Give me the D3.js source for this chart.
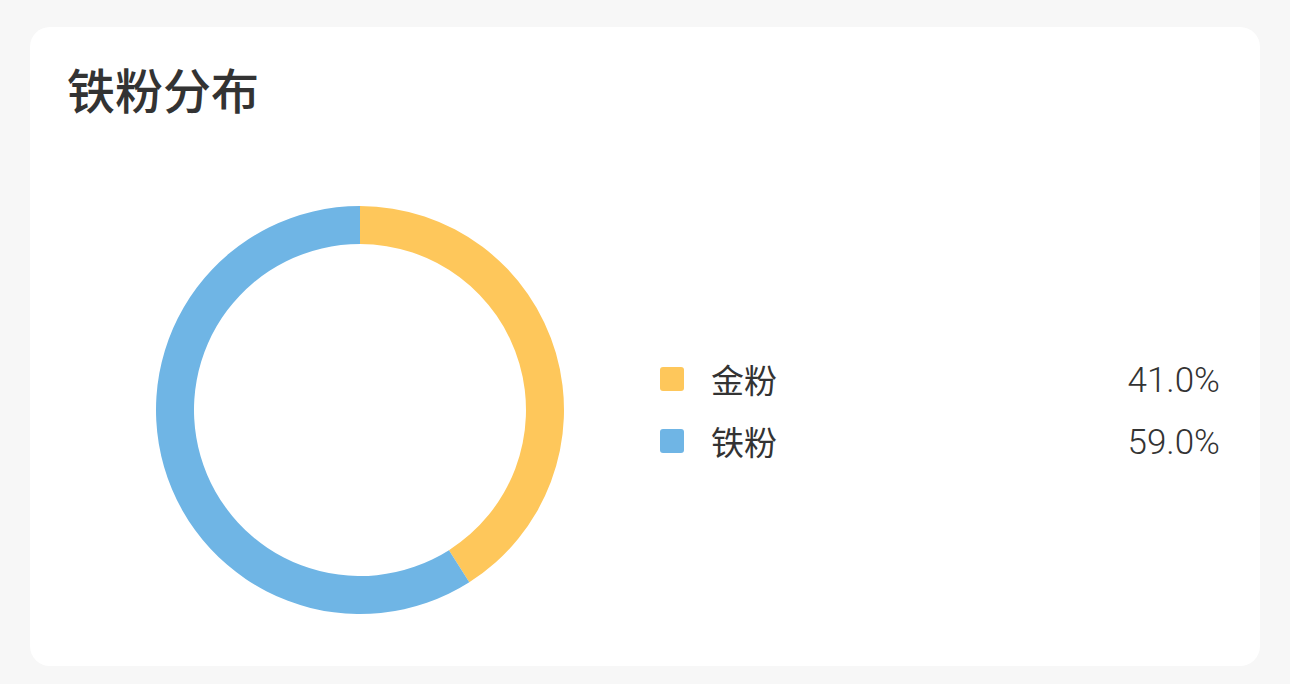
<!DOCTYPE html>
<html>
<head>
<meta charset="utf-8">
<script src="https://cdn.jsdelivr.net/npm/d3@7"></script>
<style>
  html, body { margin: 0; padding: 0; background: #f7f7f7; }
  svg { display: block; }
</style>
</head>
<body>
<div class="viz"></div>
<script>
var categories = ["金粉", "铁粉"];
var values = [41.0, 59.0];
var colors = ["#fec75b", "#6fb5e5"];
var title = "铁粉分布";

var width = 1290,
  height = 684,
  font = "'Noto Sans CJK SC', 'Noto Sans', sans-serif";

var svg = d3
  .select(".viz")
  .append("svg")
  .attr("width", width)
  .attr("height", height);

// card
svg
  .append("rect")
  .attr("x", 30)
  .attr("y", 27)
  .attr("width", 1230)
  .attr("height", 639)
  .attr("rx", 20)
  .attr("fill", "#ffffff");

svg
  .append("text")
  .attr("x", 67)
  .attr("y", 88)
  .attr("dominant-baseline", "central")
  .style("font-family", font)
  .style("font-size", "48px")
  .style("font-weight", 500)
  .attr("fill", "#333333")
  .text(title);

var color = d3.scaleOrdinal().domain(categories).range(colors);

var pie = d3
  .pie()
  .sort(null)
  .value(function (d, i) {
    return values[i];
  });

var arc = d3.arc().innerRadius(166).outerRadius(204);

var g = svg.append("g").attr("transform", "translate(360,410)");

g.selectAll("path")
  .data(pie(categories))
  .enter()
  .append("path")
  .attr("d", arc)
  .attr("fill", function (d) {
    return color(d.data);
  });

// legend
var y = d3.scalePoint().domain(categories).range([379, 441]);

var legend = svg
  .append("g")
  .selectAll("g")
  .data(categories)
  .enter()
  .append("g")
  .attr("transform", function (d) {
    return "translate(0," + y(d) + ")";
  });

legend
  .append("rect")
  .attr("x", 660)
  .attr("y", -12)
  .attr("width", 24)
  .attr("height", 24)
  .attr("rx", 3)
  .attr("fill", function (d) {
    return color(d);
  });

legend
  .append("text")
  .attr("x", 711)
  .attr("dominant-baseline", "central")
  .style("font-family", font)
  .style("font-size", "33px")
  .attr("fill", "#333333")
  .text(function (d) {
    return d;
  });

legend
  .append("text")
  .attr("x", 1220)
  .attr("y", 13)
  .attr("text-anchor", "end")
  .style("font-family", "Roboto, sans-serif")
  .style("font-size", "35px")
  .style("font-weight", 300)
  .attr("fill", "#333333")
  .text(function (d, i) {
    return values[i].toFixed(1) + "%";
  });
</script>
</body>
</html>
